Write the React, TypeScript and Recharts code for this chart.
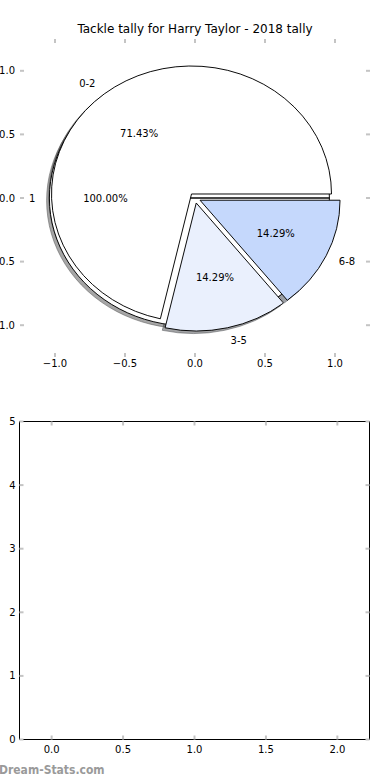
import React from 'react';
import { PieChart, Pie, Cell, ScatterChart, Scatter, XAxis, YAxis } from 'recharts';

// outer pie: a single "1" wedge, inner pie: the tackle bands
const tallyNames = ['1'];
const tallyValues = [1];
const bandNames = ['0-2', '3-5', '6-8'];
const bandValues = [5, 1, 1];
const bandColors = ['#ffffff', '#eaf0fd', '#c5d8fc'];
const tallyColors = ['#ffffff'];

const pieTicks = [-1, -0.5, 0, 0.5, 1];
const emptyXTicks = [0, 0.5, 1, 1.5, 2];
const emptyYTicks = [0, 1, 2, 3, 4, 5];
const noPoints: { x: number; y: number }[] = [];

const R = 140;
const CX = 195;
const CY = 198;
const SQUASH = 128 / 140; // axes are not equal, so the pie is an ellipse
const EXPLODE = 0.04 * R;
const SHADOW = 0.02 * R;
const FONT = '"DejaVu Sans", sans-serif';

const tallyData = tallyNames.map((name, i) => ({ name, value: tallyValues[i] }));
const bandData = bandNames.map((name, i) => ({ name, value: bandValues[i] }));

const midAngle = (values: number[], i: number) => {
  const total = values.reduce((a, b) => a + b, 0);
  const before = values.slice(0, i).reduce((a, b) => a + b, 0);
  return ((before + values[i] / 2) / total) * 360;
};

const centre = (values: number[], i: number) => {
  const a = (midAngle(values, i) * Math.PI) / 180;
  return { x: CX + EXPLODE * Math.cos(a), y: CY - EXPLODE * Math.sin(a) };
};

const darken = (hex: string) => {
  const n = parseInt(hex.slice(1), 16);
  const c = [(n >> 16) & 255, (n >> 8) & 255, n & 255].map((v) => Math.round(v * 0.3));
  return `rgb(${c[0]},${c[1]},${c[2]})`;
};

const fmt = (v: number) => (v < 0 ? '\u2212' : '') + Math.abs(v).toFixed(1);

const txt = (x: number, y: number, anchor: string, s: string) => (
  <text
    transform={`translate(${x},${y}) scale(1,${1 / SQUASH})`}
    textAnchor={anchor}
    dominantBaseline="central"
    fontSize={10}
    fontFamily={FONT}
    fill="#000"
  >
    {s}
  </text>
);

const labelFor = (only: number) => (props: any) => {
  if (props.index !== only) return <g />;
  const a = (props.midAngle * Math.PI) / 180;
  const cos = Math.cos(a);
  const sin = Math.sin(a);
  const name = props.payload?.name ?? props.name;
  const pct = (props.percent * 100).toFixed(2) + '%';
  return (
    <g>
      {txt(props.cx + 1.1 * R * cos, props.cy - 1.1 * R * sin, cos > 0 ? 'start' : 'end', name)}
      {txt(props.cx + 0.6 * R * cos, props.cy - 0.6 * R * sin, 'middle', pct)}
    </g>
  );
};

type Layer = 'shadow' | 'wedge' | 'label';

const wedgePie = (
  key: string,
  data: { name: string; value: number }[],
  values: number[],
  colors: string[],
  i: number,
  layer: Layer
) => {
  const c = centre(values, i);
  const cx = layer === 'shadow' ? c.x - SHADOW : c.x;
  const cy = layer === 'shadow' ? c.y + SHADOW : c.y;
  return (
    <Pie
      key={key}
      data={data}
      dataKey="value"
      nameKey="name"
      cx={cx}
      cy={cy}
      innerRadius={0}
      outerRadius={R}
      startAngle={0}
      endAngle={360}
      isAnimationActive={false}
      labelLine={false}
      label={layer === 'label' ? labelFor(i) : false}
    >
      {data.map((d, j) => {
        if (j !== i || layer === 'label') return <Cell key={j} fill="none" stroke="none" />;
        if (layer === 'shadow') {
          const s = darken(colors[j]);
          return <Cell key={j} fill={s} fillOpacity={0.5} stroke={s} strokeOpacity={0.5} strokeWidth={1} />;
        }
        return <Cell key={j} fill={colors[j]} stroke="#000" strokeWidth={1} />;
      })}
    </Pie>
  );
};

const tickLine = { stroke: '#c4c4c4', strokeWidth: 2 };
const tickText = { fill: '#000', fontSize: 10, fontFamily: FONT };
const spine = { stroke: '#000', strokeWidth: 1 };
const noLabel = () => <g />;

export default function App() {
  const layers: Layer[] = ['shadow', 'wedge'];
  const pies: React.ReactNode[] = [];
  layers.forEach((layer) => {
    tallyData.forEach((_, i) => pies.push(wedgePie(`t-${layer}-${i}`, tallyData, tallyValues, tallyColors, i, layer)));
    bandData.forEach((_, i) => pies.push(wedgePie(`b-${layer}-${i}`, bandData, bandValues, bandColors, i, layer)));
  });
  tallyData.forEach((_, i) => pies.push(wedgePie(`t-label-${i}`, tallyData, tallyValues, tallyColors, i, 'label')));
  bandData.forEach((_, i) => pies.push(wedgePie(`b-label-${i}`, bandData, bandValues, bandColors, i, 'label')));

  return (
    <div style={{ position: 'absolute', left: 0, top: 0, width: 390, height: 780, background: '#fff', overflow: 'hidden' }}>
      <div
        style={{
          position: 'absolute',
          left: 0,
          top: 22,
          width: 390,
          textAlign: 'center',
          fontFamily: FONT,
          fontSize: 12,
          lineHeight: '14px',
          color: '#000',
        }}
      >
        Tackle tally for Harry Taylor - 2018 tally
      </div>

      <div
        style={{
          position: 'absolute',
          left: 0,
          top: 0,
          width: 390,
          height: 400,
          transform: `scaleY(${SQUASH})`,
          transformOrigin: `0px ${CY}px`,
        }}
      >
        <PieChart width={390} height={400} margin={{ top: 0, right: 0, bottom: 0, left: 0 }}>
          {pies}
        </PieChart>
      </div>

      <div style={{ position: 'absolute', left: 0, top: 0, pointerEvents: 'none' }}>
        <ScatterChart width={390} height={400} margin={{ top: 38, right: 19, bottom: 42, left: 19 }}>
          <XAxis xAxisId="b" type="number" dataKey="x" orientation="bottom" domain={[-1.25, 1.25]} ticks={pieTicks}
            allowDataOverflow height={1} axisLine={false} tickLine={tickLine} tickSize={-4} tickMargin={7}
            tick={tickText} tickFormatter={fmt} interval={0} />
          <XAxis xAxisId="t" type="number" dataKey="x" orientation="top" domain={[-1.25, 1.25]} ticks={pieTicks}
            allowDataOverflow height={1} axisLine={false} tickLine={tickLine} tickSize={-4} tick={noLabel} interval={0} />
          <YAxis yAxisId="l" type="number" dataKey="y" orientation="left" domain={[-1.25, 1.25]} ticks={pieTicks}
            allowDataOverflow width={1} axisLine={false} tickLine={tickLine} tickSize={-4} tickMargin={9}
            tick={tickText} tickFormatter={fmt} interval={0} />
          <YAxis yAxisId="r" type="number" dataKey="y" orientation="right" domain={[-1.25, 1.25]} ticks={pieTicks}
            allowDataOverflow width={1} axisLine={false} tickLine={tickLine} tickSize={-4} tick={noLabel} interval={0} />
          <Scatter data={noPoints} xAxisId="b" yAxisId="l" isAnimationActive={false} />
          <Scatter data={noPoints} xAxisId="t" yAxisId="r" isAnimationActive={false} />
        </ScatterChart>
      </div>

      <div style={{ position: 'absolute', left: 0, top: 400 }}>
        <ScatterChart width={390} height={380} margin={{ top: 20.5, right: 19.5, bottom: 39.5, left: 18.5 }}>
          <XAxis xAxisId="b" type="number" dataKey="x" orientation="bottom" domain={[-0.225, 2.225]} ticks={emptyXTicks}
            allowDataOverflow height={1} axisLine={spine} tickLine={tickLine} tickSize={-4} tickMargin={10}
            tick={tickText} tickFormatter={fmt} interval={0} />
          <XAxis xAxisId="t" type="number" dataKey="x" orientation="top" domain={[-0.225, 2.225]} ticks={emptyXTicks}
            allowDataOverflow height={1} axisLine={spine} tickLine={tickLine} tickSize={-4} tick={noLabel} interval={0} />
          <YAxis yAxisId="l" type="number" dataKey="y" orientation="left" domain={[0, 5]} ticks={emptyYTicks}
            allowDataOverflow width={1} axisLine={spine} tickLine={tickLine} tickSize={-4} tickMargin={8}
            tick={tickText} interval={0} />
          <YAxis yAxisId="r" type="number" dataKey="y" orientation="right" domain={[0, 5]} ticks={emptyYTicks}
            allowDataOverflow width={1} axisLine={spine} tickLine={tickLine} tickSize={-4} tick={noLabel} interval={0} />
          <Scatter data={noPoints} xAxisId="b" yAxisId="l" isAnimationActive={false} />
          <Scatter data={noPoints} xAxisId="t" yAxisId="r" isAnimationActive={false} />
        </ScatterChart>
      </div>

      <div
        style={{
          position: 'absolute',
          left: -1,
          top: 763,
          fontFamily: '"DejaVu Sans Condensed", "DejaVu Sans", sans-serif',
          fontWeight: 'bold',
          fontSize: 12,
          lineHeight: '14px',
          color: '#9a9a9a',
          whiteSpace: 'nowrap',
        }}
      >
        Dream-Stats.com
      </div>
    </div>
  );
}
